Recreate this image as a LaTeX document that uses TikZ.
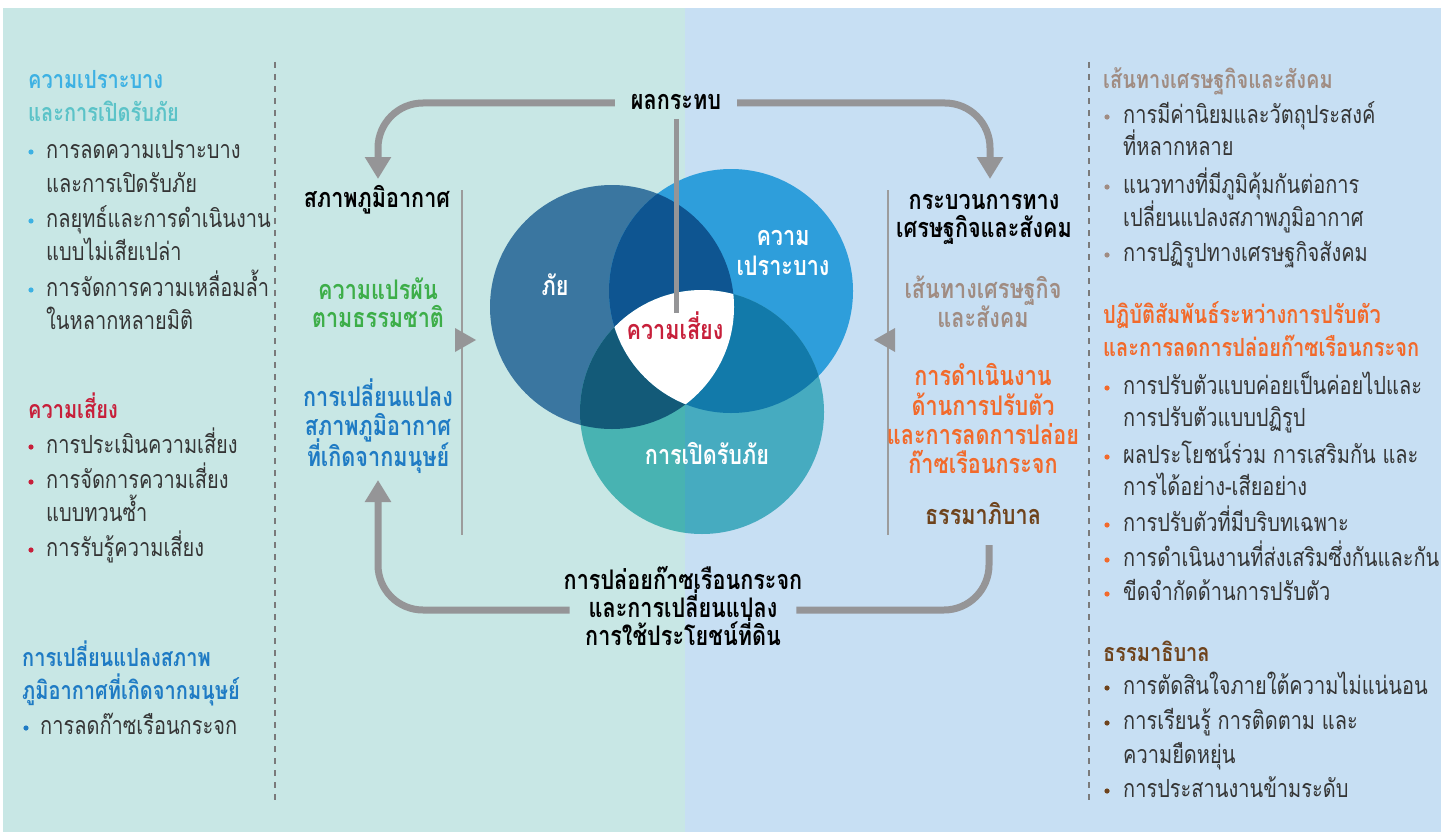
\documentclass[tikz,border=0pt]{standalone}
\usepackage{fontspec}
\setmainfont[Script=Thai]{Loma}
\newfontfamily\thaitext[Script=Thai,FakeStretch=0.8]{Loma}
\newfontfamily\thailabel[Script=Thai,FakeStretch=0.8]{Loma}
\usetikzlibrary{arrows.meta}

\definecolor{bgleft}{HTML}{C8E7E5}
\definecolor{bgright}{HTML}{C7DFF3}
\definecolor{bodytext}{HTML}{353535}
\definecolor{arrowgray}{HTML}{959597}
\definecolor{linegray}{HTML}{9C9C9C}
\definecolor{dashgray}{HTML}{7A7A7A}
\definecolor{vulblue}{HTML}{3DB1E3}
\definecolor{expteal}{HTML}{5BC3C8}
\definecolor{riskred}{HTML}{C71F3A}
\definecolor{humanblue}{HTML}{1F7BC4}
\definecolor{natgreen}{HTML}{3DAE49}
\definecolor{taupe}{HTML}{A08C82}
\definecolor{orange}{HTML}{F26A2B}
\definecolor{govbrown}{HTML}{6E431C}
\definecolor{hazfill}{HTML}{3A76A0}
\definecolor{vulfill}{HTML}{2E9EDB}
\definecolor{expfillL}{HTML}{48B3B2}
\definecolor{expfillR}{HTML}{46ABC0}
\definecolor{hvfill}{HTML}{0E5591}
\definecolor{hefill}{HTML}{135A78}
\definecolor{vefill}{HTML}{127AAA}

\begin{document}
\begin{tikzpicture}[x=1pt,y=-1pt,
  body/.style={anchor=west,inner sep=0pt,text height=13pt,text depth=0pt,text=bodytext,font=\thaitext\fontsize{25}{28}\selectfont},
  head/.style={anchor=west,inner sep=0pt,text height=13pt,text depth=0pt,font=\thaitext\fontsize{25}{28}\selectfont\bfseries},
  label/.style={anchor=center,inner sep=0pt,text height=14pt,text depth=0pt,text=black,font=\thailabel\fontsize{27}{30}\selectfont\bfseries},
  flow/.style={draw=arrowgray,line width=7pt,rounded corners=45pt},
  tip/.style={-{Triangle[width=25pt,length=22pt]}},
  sep/.style={draw=dashgray,line width=1.2pt,dash pattern=on 6pt off 6pt},
  rule/.style={draw=linegray,line width=1.2pt}]
\useasboundingbox (0,0) rectangle (1448,832);
% Background
\fill[bgleft] (3,8) rectangle (685,832);
\fill[bgright] (685,8) rectangle (1441,832);
\draw[sep] (275,62) -- (275,805);
\draw[sep] (1089,62) -- (1089,805);
\draw[rule] (462,190) -- (462,535);
\draw[rule] (888,190) -- (888,535);
% Circles
\coordinate (hazc) at (612,307);
\coordinate (vulc) at (731,291);
\coordinate (expc) at (702,412);
\fill[hazfill] (hazc) circle[radius=122pt];
\fill[vulfill] (vulc) circle[radius=122pt];
\begin{scope}
\clip (0,0) rectangle (685,832);
\fill[expfillL] (expc) circle[radius=122pt];
\end{scope}
\begin{scope}
\clip (685,0) rectangle (1448,832);
\fill[expfillR] (expc) circle[radius=122pt];
\end{scope}
% Overlaps
\begin{scope}
\clip (hazc) circle[radius=122pt];
\fill[hvfill] (vulc) circle[radius=122pt];
\fill[hefill] (expc) circle[radius=122pt];
\end{scope}
\begin{scope}
\clip (vulc) circle[radius=122pt];
\fill[vefill] (expc) circle[radius=122pt];
\end{scope}
\begin{scope}
\clip (hazc) circle[radius=122pt];
\clip (vulc) circle[radius=122pt];
\fill[white] (expc) circle[radius=122pt];
\end{scope}
% Circle labels
\node[label,text=white] (haz) at (555,288) {ภัย};
\node[label,text=white] (vul1) at (783,238) {ความ};
\node[label,text=white] (vul2) at (783,268) {เปราะบาง};
\node[label,text=white] (exp) at (707,457) {การเปิดรับภัย};
\node[label,text=riskred] (risk) at (675,332) {ความเสี่ยง};
% Impacts and emissions
\node[label,inner xsep=16pt] (impact) at (676,103) {ผลกระทบ};
\node[label] (emis1) at (683,582) {การปล่อยก๊าซเรือนกระจก};
\node[label,inner xsep=19pt] (emis2) at (683,610) {และการเปลี่ยนแปลง};
\node[label] (emis3) at (683,638) {การใช้ประโยชน์ที่ดิน};
% Climate side
\node[label] (climate) at (377,200) {สภาพภูมิอากาศ};
\node[label,text=natgreen] (nat1) at (378,292) {ความแปรผัน};
\node[label,text=natgreen] (nat2) at (378,320) {ตามธรรมชาติ};
\node[label,text=humanblue] (anth1) at (378,399) {การเปลี่ยนแปลง};
\node[label,text=humanblue] (anth2) at (378,428) {สภาพภูมิอากาศ};
\node[label,text=humanblue] (anth3) at (378,459) {ที่เกิดจากมนุษย์};
% Socio-economic side
\node[label] (socio1) at (984,202) {กระบวนการทาง};
\node[label] (socio2) at (984,230) {เศรษฐกิจและสังคม};
\node[label,text=taupe] (path1) at (983,291) {เส้นทางเศรษฐกิจ};
\node[label,text=taupe] (path2) at (983,320) {และสังคม};
\node[label,text=orange] (act1) at (983,378) {การดำเนินงาน};
\node[label,text=orange] (act2) at (983,408) {ด้านการปรับตัว};
\node[label,text=orange] (act3) at (983,437) {และการลดการปล่อย};
\node[label,text=orange] (act4) at (983,466) {ก๊าซเรือนกระจก};
\node[label,text=govbrown] (gov) at (983,517) {ธรรมาภิบาล};
% Arrows
\coordinate (climtop) at (378,179);
\coordinate (climbot) at (378,480);
\coordinate (sociotop) at (990,179);
\coordinate (sociobot) at (989,545);
\coordinate (stemend) at (676,313);
\draw[flow,tip] (impact.west) -| (climtop);
\draw[flow,tip] (impact.east) -| (sociotop);
\draw[flow,tip] (emis2.west) -| (climbot);
\draw[flow] (sociobot) |- (emis2.east);
\draw[draw=arrowgray,line width=5pt] (676,119) -- (stemend);
\fill[arrowgray] (455,328) -- (476,340) -- (455,352) -- cycle;
\fill[arrowgray] (895,328) -- (874,340) -- (895,352) -- cycle;
% Left column
\node[head,text=vulblue] (lh1) at (28,82) {ความเปราะบาง};
\node[head,text=expteal] (lh2) at (28,115) {และการเปิดรับภัย};
\node[body] (l1) at (46,152) {การลดความเปราะบาง};
\node[body] (l2) at (46,186) {และการเปิดรับภัย};
\node[body] (l3) at (46,221) {กลยุทธ์และการดำเนินงาน};
\node[body] (l4) at (46,254) {แบบไม่เสียเปล่า};
\node[body] (l5) at (46,290) {การจัดการความเหลื่อมล้ำ};
\node[body] (l6) at (46,323) {ในหลากหลายมิติ};
\foreach \y in {152,221,290} \fill[vulblue] (31,\y) circle[radius=2.6pt];
\node[head,text=riskred] (rh) at (28,412) {ความเสี่ยง};
\node[body] (r1) at (46,447) {การประเมินความเสี่ยง};
\node[body] (r2) at (46,482) {การจัดการความเสี่ยง};
\node[body] (r3) at (46,515) {แบบทวนซ้ำ};
\node[body] (r4) at (46,550) {การรับรู้ความเสี่ยง};
\foreach \y in {447,482,550} \fill[riskred] (31,\y) circle[radius=2.6pt];
\node[head,text=humanblue] (hh1) at (22,660) {การเปลี่ยนแปลงสภาพ};
\node[head,text=humanblue] (hh2) at (22,693) {ภูมิอากาศที่เกิดจากมนุษย์};
\node[body] (h1) at (40,728) {การลดก๊าซเรือนกระจก};
\fill[humanblue] (26,728) circle[radius=2.6pt];
% Right column
\node[head,text=taupe] (ph) at (1103,82) {เส้นทางเศรษฐกิจและสังคม};
\node[body] (p1) at (1123,117) {การมีค่านิยมและวัตถุประสงค์};
\node[body] (p2) at (1123,149) {ที่หลากหลาย};
\node[body] (p3) at (1123,187) {แนวทางที่มีภูมิคุ้มกันต่อการ};
\node[body] (p4) at (1123,220) {เปลี่ยนแปลงสภาพภูมิอากาศ};
\node[body] (p5) at (1123,255) {การปฏิรูปทางเศรษฐกิจสังคม};
\foreach \y in {117,187,255} \fill[taupe] (1107,\y) circle[radius=2.6pt];
\node[head,text=orange] (ah1) at (1103,317) {ปฏิบัติสัมพันธ์ระหว่างการปรับตัว};
\node[head,text=orange] (ah2) at (1103,350) {และการลดการปล่อยก๊าซเรือนกระจก};
\node[body] (a1) at (1123,388) {การปรับตัวแบบค่อยเป็นค่อยไปและ};
\node[body] (a2) at (1123,420) {การปรับตัวแบบปฏิรูป};
\node[body] (a3) at (1123,457) {ผลประโยชน์ร่วม การเสริมกัน และ};
\node[body] (a4) at (1123,489) {การได้อย่าง-เสียอย่าง};
\node[body] (a5) at (1123,525) {การปรับตัวที่มีบริบทเฉพาะ};
\node[body] (a6) at (1123,560) {การดำเนินงานที่ส่งเสริมซึ่งกันและกัน};
\node[body] (a7) at (1123,594) {ขีดจำกัดด้านการปรับตัว};
\foreach \y in {388,457,525,560,594} \fill[orange] (1107,\y) circle[radius=2.6pt];
\node[head,text=govbrown] (gh) at (1103,655) {ธรรมาธิบาล};
\node[body] (g1) at (1123,688) {การตัดสินใจภายใต้ความไม่แน่นอน};
\node[body] (g2) at (1123,723) {การเรียนรู้ การติดตาม และ};
\node[body] (g3) at (1123,757) {ความยืดหยุ่น};
\node[body] (g4) at (1123,791) {การประสานงานข้ามระดับ};
\foreach \y in {688,723,791} \fill[govbrown] (1107,\y) circle[radius=2.6pt];
\end{tikzpicture}
\end{document}
